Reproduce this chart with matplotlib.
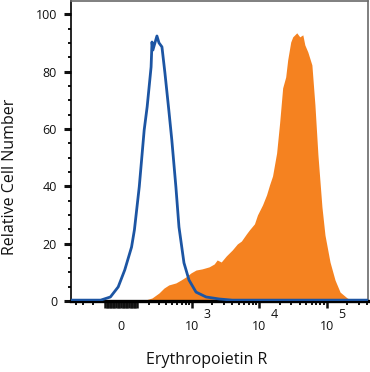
import numpy as np
import matplotlib
matplotlib.use('Agg')
import matplotlib.pyplot as plt
from matplotlib.ticker import FixedLocator, FixedFormatter
from matplotlib.transforms import blended_transform_factory

plt.rcParams['font.family'] = ['Open Sans', 'DejaVu Sans']

# isotype control (blue outline), intensity vs relative count
blue_x = [-476, -134, -66, -17, 23, 66, 85, 119, 157, 182, 218, 227, 236, 257, 279,
          303, 340, 381, 440, 491, 569, 635, 757, 903, 1152, 1629, 2550, 3990, 409000]
blue_y = [0.3, 0.3, 1.4, 4.9, 10.8, 18.8, 24.8, 39.8, 59.6, 67.7, 81.6, 90.3, 87.5, 90.0,
          92.4, 90.0, 88.6, 79.5, 66.6, 56.2, 39.8, 25.8, 13.3, 7.3, 3.1, 1.4, 0.7, 0.3, 0.3]

# Erythropoietin R stained cells (orange fill)
orange_x = [141, 227, 303, 367, 440, 569, 680, 811, 967, 1152, 1420, 1805, 2147, 2380,
            2732, 3245, 3990, 4740, 5440, 6460, 7160, 8500, 9420, 11190, 12830, 14230,
            15760, 18100, 20060, 22250, 24670, 26430, 29300, 31380, 36000, 39900, 44250,
            47400, 52560, 60330, 66900, 74150, 85000, 94260, 111900, 132900, 157900,
            200800, 246500]
orange_y = [0.0, 1.05, 2.8, 4.5, 5.6, 6.3, 7.3, 8.4, 9.8, 10.8, 11.2, 11.9, 12.9, 14.3,
            13.6, 15.7, 17.8, 19.9, 20.9, 23.4, 24.8, 26.9, 30.0, 33.5, 37.0, 40.5,
            43.6, 51.6, 62.1, 74.3, 78.1, 84.1, 90.3, 92.1, 93.5, 92.1, 92.8, 89.3,
            86.8, 82.3, 68.4, 50.9, 32.8, 23.0, 13.6, 7.3, 3.1, 1.05, 0.0]

x_labeled = {0: '0', 1e3: '10', 1e4: '10', 1e5: '10'}
decade_exps = {1e3: '3', 1e4: '4', 1e5: '5'}
y_major = [0, 20, 40, 60, 80, 100]

W = 179.0  # linear width of the biexponential-like axis


def fwd(x):
    return np.arcsinh(np.asarray(x, dtype=float) / W)


def inv(u):
    return W * np.sinh(u)


fig = plt.figure(figsize=(3.70, 3.72), dpi=100)
ax = fig.add_axes([71 / 370, 1 - 301 / 372, 297 / 370, 300 / 372])

ax.fill_between(orange_x, orange_y, 0, color='#F58220', lw=0, zorder=2)
ax.plot(blue_x, blue_y, color='#1C55A3', lw=2.0, zorder=3, solid_joinstyle='round')

ax.set_xscale('function', functions=(fwd, inv))
ax.set_xlim(-476, 409000)
ax.set_ylim(0, 104.6)

# long ticks: decades plus the compressed linear region around zero
major = sorted(set([k * 10 * s for k in range(1, 11) for s in (1, -1)] + list(x_labeled)))
major_labels = [x_labeled.get(v, '') for v in major]
# short ticks at 2..9 x 10^d beyond the linear region
minor = []
for d in range(2, 6):
    for k in range(2, 10):
        minor.append(k * 10 ** d)
        minor.append(-k * 10 ** d)
minor = [m for m in minor if -476 < m < 409000]
ax.xaxis.set_major_locator(FixedLocator(major))
ax.xaxis.set_major_formatter(FixedFormatter(major_labels))
ax.xaxis.set_minor_locator(FixedLocator(minor))

ax.yaxis.set_major_locator(FixedLocator(y_major))
ax.yaxis.set_minor_locator(FixedLocator([v for v in range(5, 105, 5) if v % 20]))

ax.tick_params(axis='x', which='major', direction='out', length=5, width=1.8,
               pad=9, labelsize=9, colors='#111111')
ax.tick_params(axis='x', which='minor', direction='out', length=3.2, width=1.4,
               colors='#111111')
ax.tick_params(axis='y', which='major', direction='out', length=5, width=2.2,
               pad=5, labelsize=9, colors='#111111')
ax.tick_params(axis='y', which='minor', direction='out', length=2, width=1.4,
               colors='#111111')

# exponents of the decade labels
trans = blended_transform_factory(ax.transData, ax.transAxes)
for xv, e in decade_exps.items():
    ax.annotate(e, xy=(xv, 0), xycoords=trans, xytext=(8, -10),
                textcoords='offset points', ha='left', va='center',
                fontsize=9, color='#111111', annotation_clip=False)

for s in ['top', 'right']:
    ax.spines[s].set_color('#6a6a6a')
    ax.spines[s].set_linewidth(1.2)
ax.spines['left'].set_color('black')
ax.spines['left'].set_linewidth(1.2)
ax.spines['bottom'].set_color('black')
ax.spines['bottom'].set_linewidth(2.4)

fig.text(207 / 370, 1 - 360 / 372, 'Erythropoietin R', ha='center', va='center',
         fontsize=11.5, color='#111111')
fig.text(10 / 370, 1 - 177 / 372, 'Relative Cell Number', ha='center', va='center',
         rotation=90, fontsize=11.5, color='#111111')

fig.savefig('out.png', dpi=100)
